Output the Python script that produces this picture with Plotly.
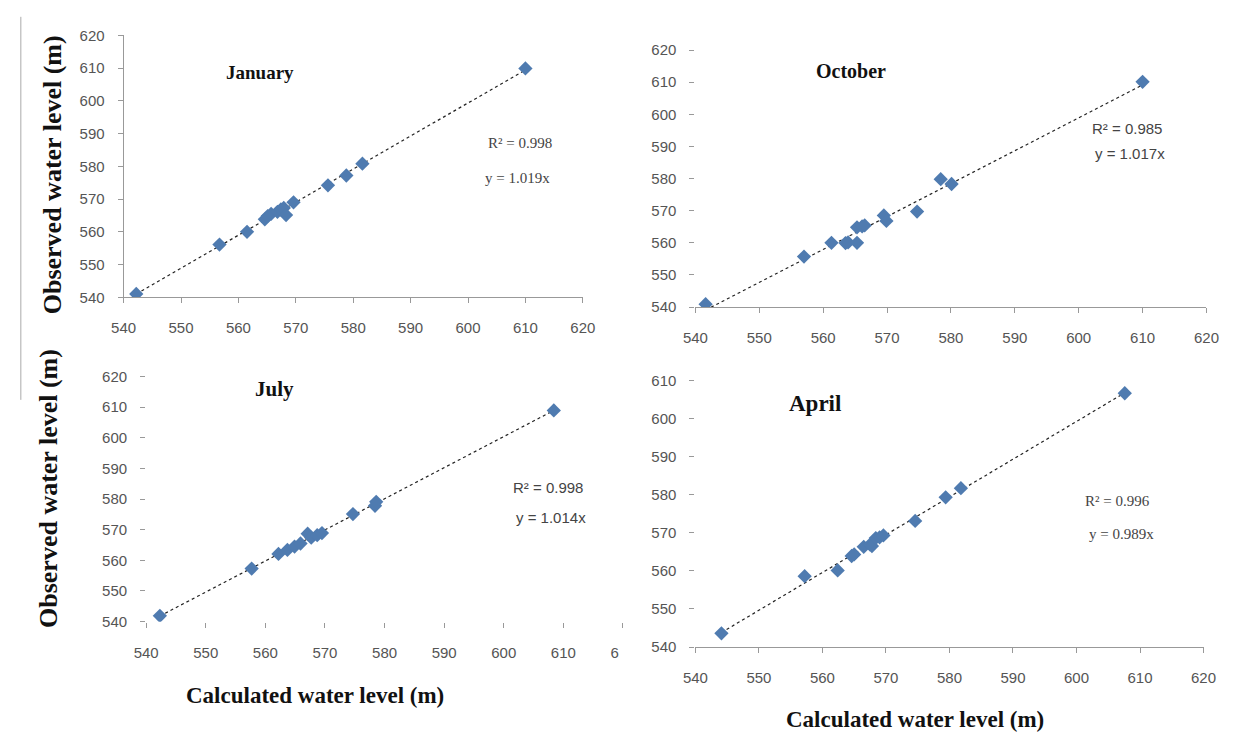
import numpy as np
import plotly.graph_objects as go

W, H = 1241, 743

# ---------------- data ----------------
jan_calc = [542.2, 556.7, 561.5, 564.6, 565.1, 565.7, 566.8, 567.4, 567.9, 568.3, 569.6, 575.6, 578.8, 581.6, 610.0]
jan_obs = [541.0, 556.1, 560.0, 563.8, 564.8, 565.5, 566.1, 566.8, 567.3, 565.1, 569.0, 574.2, 577.2, 580.8, 609.9]

oct_calc = [541.6, 557.0, 561.3, 563.5, 563.9, 565.3, 565.3, 566.1, 566.5, 569.5, 569.9, 574.7, 578.4, 580.1, 610.0]
oct_obs = [540.9, 555.7, 560.0, 559.9, 560.1, 560.0, 564.8, 565.1, 565.4, 568.5, 566.8, 569.7, 579.8, 578.3, 610.1]

jul_calc = [542.3, 557.7, 562.2, 563.7, 564.9, 565.9, 567.1, 567.7, 568.7, 569.5, 574.7, 578.4, 578.6, 608.4]
jul_obs = [541.9, 557.3, 562.1, 563.4, 564.5, 565.5, 568.7, 567.4, 568.2, 568.9, 575.1, 577.8, 579.1, 608.9]

apr_calc = [544.1, 557.2, 562.4, 564.6, 565.0, 566.5, 567.5, 567.8, 568.4, 569.0, 569.6, 574.6, 579.4, 581.8, 607.6]
apr_obs = [543.6, 558.6, 560.1, 563.9, 564.3, 566.3, 566.9, 566.5, 568.6, 568.8, 569.3, 573.1, 579.3, 581.7, 606.6]

month_names = ["January", "October", "July", "April"]
r2_labels = ["R² = 0.998", "R² = 0.985", "R² = 0.998", "R² = 0.996"]
eq_labels = ["y = 1.019x", "y = 1.017x", "y = 1.014x", "y = 0.989x"]
x_ranges = [[540, 620], [540, 620], [540, 620], [540, 620]]
y_ranges = [[540, 620], [540, 620], [540, 620], [540, 610]]
y_title = "Observed water level (m)"
x_title = "Calculated water level (m)"

panels = [(jan_calc, jan_obs), (oct_calc, oct_obs), (jul_calc, jul_obs), (apr_calc, apr_obs)]

# pixel boxes of each plot area: (left, right, top, bottom)
boxes = [(113, 582, 27, 295), (697, 1219, 42, 305), (136, 623, 376, 627), (697, 1216, 380, 653)]

def px(x):
    return x / W

def py(y):
    return 1 - y / H

fig = go.Figure()
marker_color = "#4f7bb0"

for i, (cx, oy) in enumerate(panels):
    n = i + 1
    xa = "x" if n == 1 else f"x{n}"
    ya = "y" if n == 1 else f"y{n}"
    cxa = np.array(cx)
    oya = np.array(oy)
    slope, inter = np.polyfit(cxa, oya, 1)
    lx = np.array([cxa.min(), cxa.max()])
    fig.add_trace(go.Scatter(x=lx, y=slope * lx + inter, mode="lines",
                             line=dict(color="#222", width=1.2, dash="dot"),
                             xaxis=xa, yaxis=ya, hoverinfo="skip"))
    fig.add_trace(go.Scatter(x=cx, y=oy, mode="markers",
                             marker=dict(symbol="diamond", size=11, color=marker_color,
                                         line=dict(width=0)),
                             xaxis=xa, yaxis=ya))

tickfont = dict(family="Liberation Sans", size=15, color="#555")

layout = dict(width=W, height=H, margin=dict(l=0, r=0, t=0, b=0),
              paper_bgcolor="white", plot_bgcolor="white", showlegend=False)

show_xline = [True, True, False, True]
show_yline = [True, False, False, False]

for i in range(4):
    n = i + 1
    l, r, t, b = boxes[i]
    xk = "xaxis" if n == 1 else f"xaxis{n}"
    yk = "yaxis" if n == 1 else f"yaxis{n}"
    xa = "x" if n == 1 else f"x{n}"
    ya = "y" if n == 1 else f"y{n}"
    layout[xk] = dict(domain=[px(l), px(r)], range=x_ranges[i], dtick=10, tick0=540,
                      anchor=ya, showgrid=False, zeroline=False,
                      showline=show_xline[i], linecolor="#999", linewidth=1,
                      ticks="outside", ticklen=5, tickcolor="#999",
                      tickfont=tickfont, ticklabelstandoff=12)
    layout[yk] = dict(domain=[py(b), py(t)], range=y_ranges[i], dtick=10, tick0=540,
                      anchor=xa, showgrid=False, zeroline=False,
                      showline=show_yline[i], linecolor="#999", linewidth=1,
                      ticks="outside", ticklen=5, tickcolor="#999",
                      tickfont=tickfont, ticklabelstandoff=10)

fig.update_layout(**layout)

def note(x, y, text, font, angle=0):
    fig.add_annotation(x=px(x), y=py(y), xref="paper", yref="paper", text=text,
                       showarrow=False, xanchor="center", yanchor="middle",
                       textangle=angle, font=font)

# month labels
month_pos = [(252, 65, 19), (856, 63, 20), (267, 389, 21), (819, 404, 23)]
for name, (x, y, s) in zip(month_names, month_pos):
    note(x, y, f"<b>{name}</b>", dict(family="Liberation Serif", size=s, color="#111"))

# R2 / equation labels
r2_pos = [(518, 137), (1138, 122), (546, 490), (1128, 504)]
eq_pos = [(515, 173), (1141, 148), (550, 520), (1132, 537)]
lab_fonts = ["Liberation Serif", "Liberation Sans", "Liberation Sans", "Liberation Serif"]
for i in range(4):
    note(r2_pos[i][0], r2_pos[i][1], r2_labels[i], dict(family=lab_fonts[i], size=15, color="#444"))
    note(eq_pos[i][0], eq_pos[i][1], eq_labels[i], dict(family=lab_fonts[i], size=15, color="#444"))

# axis titles
for (x, y) in [(40, 170), (37, 491)]:
    note(x, y, f"<b>{y_title}</b>", dict(family="Liberation Serif", size=26, color="#111"), angle=-90)
for (x, y) in [(308, 703), (921, 727)]:
    note(x, y, f"<b>{x_title}</b>", dict(family="Liberation Serif", size=23, color="#111"))

# left border line of the scanned figure and clipping of the July panel
fig.add_shape(type="line", xref="paper", yref="paper", x0=px(8), x1=px(8), y0=py(8), y1=py(400),
              line=dict(color="#aaa", width=1))
fig.add_shape(type="rect", xref="paper", yref="paper", x0=px(619), x1=px(645), y0=py(668), y1=py(638),
              fillcolor="white", line=dict(width=0), layer="above")

fig.write_html("out.html")
